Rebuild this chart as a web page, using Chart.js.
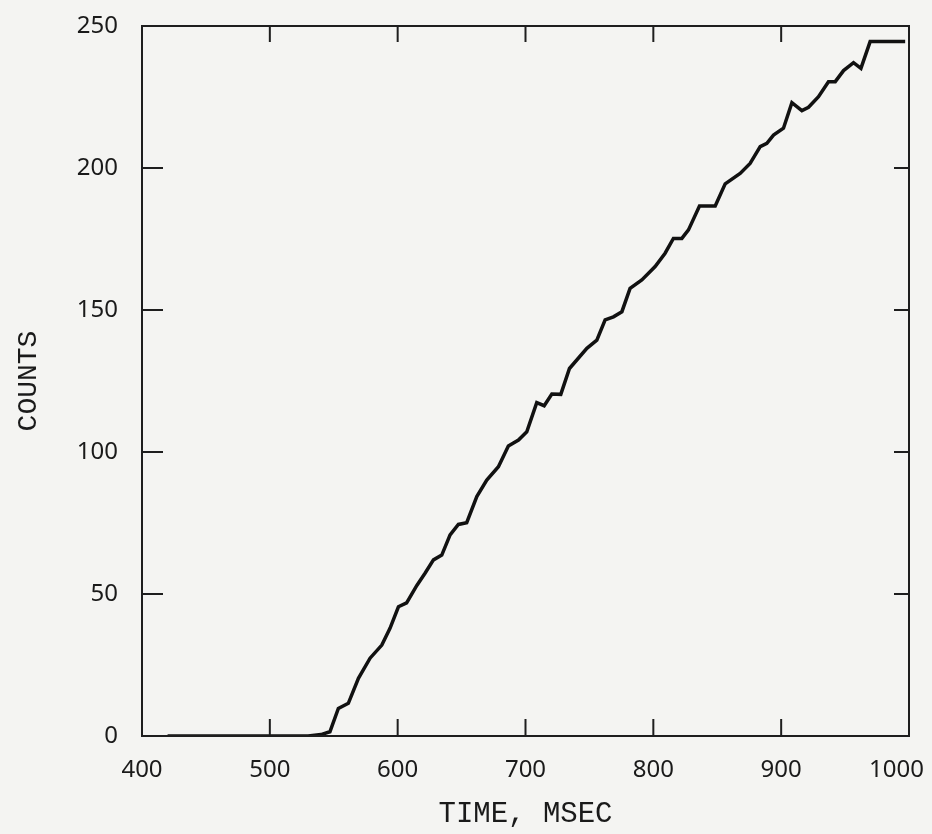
<!DOCTYPE html>
<html>
<head>
<meta charset="utf-8">
<script src="https://cdn.jsdelivr.net/npm/chart.js@4/dist/chart.umd.min.js"></script>
<style>
    html, body { margin: 0; padding: 0; background: #f4f4f2; }
    #wrap { width: 932px; height: 834px; }
</style>
</head>
<body>
<div id="wrap"><canvas id="chart" width="932" height="834"></canvas></div>
<script>
// time (msec) and cumulative counts
const times = [420, 500, 530, 540, 547, 553.6, 561.4, 569.3, 578.4, 587.6, 594, 600.6, 607, 615, 621.4, 628, 634.5, 641,
    647.5, 654, 661.9, 669.7, 678.8, 686.6, 694.5, 701, 708.8, 714.6, 720.6, 727.6, 734.4, 748, 755.8,
    762.3, 768.8, 775.4, 781.8, 791, 801.4, 809.2, 815.7, 822.3, 827.5, 836.1, 848.4, 856.2, 867.9,
    875.7, 883.6, 888.8, 894, 901.8, 908.4, 916.2, 921.4, 929.2, 937, 942.3, 948.8, 956.6, 962.4, 969.6, 997];
const counts = [0, 0, 0, 0.5, 1.5, 9.7, 11.5, 20.3, 27.4, 32, 37.9, 45.5, 46.9, 53, 57.3, 62, 63.7, 70.8,
    74.5, 75.1, 84.3, 90.1, 94.8, 102.1, 104.2, 107.1, 117.4, 116.3, 120.4, 120.3, 129.4, 136.5, 139.4,
    146.5, 147.6, 149.4, 157.6, 160.6, 165.3, 170, 175.2, 175.2, 178.2, 186.6, 186.6, 194.4, 198.1,
    201.6, 207.5, 208.7, 211.6, 214, 223, 220.2, 221.4, 225.1, 230.4, 230.4, 234.3, 237.1, 235.1, 244.5, 244.5];
const xTicks = [400, 500, 600, 700, 800, 900, 1000];
const yTicks = [0, 50, 100, 150, 200, 250];
const xTitle = 'TIME, MSEC';
const yTitle = 'COUNTS';

const points = times.map((t, i) => ({ x: t, y: counts[i] }));

// plot frame with inward tick marks on all four sides
const frame = {
    id: 'frame',
    afterDatasetsDraw(chart) {
        const { ctx, chartArea: a, scales } = chart;
        ctx.save();
        ctx.strokeStyle = '#1e1e1e';
        ctx.lineWidth = 2;
        ctx.strokeRect(a.left, a.top, a.right - a.left, a.bottom - a.top);
        ctx.beginPath();
        xTicks.slice(1, -1).forEach(v => {
            const x = scales.x.getPixelForValue(v);
            ctx.moveTo(x, a.bottom); ctx.lineTo(x, a.bottom - 17);
            ctx.moveTo(x, a.top); ctx.lineTo(x, a.top + 16);
        });
        yTicks.slice(1, -1).forEach(v => {
            const y = scales.y.getPixelForValue(v);
            ctx.moveTo(a.left, y); ctx.lineTo(a.left + 21, y);
            ctx.moveTo(a.right, y); ctx.lineTo(a.right - 15, y);
        });
        ctx.stroke();
        ctx.restore();
    }
};

new Chart(document.getElementById('chart'), {
    type: 'line',
    data: {
        datasets: [{
            data: points,
            borderColor: '#111',
            borderWidth: 3.5,
            pointRadius: 0,
            tension: 0,
            fill: false
        }]
    },
    options: {
        responsive: false,
        animation: false,
        layout: { padding: { top: 26, right: 23, left: 0, bottom: 0 } },
        plugins: { legend: { display: false }, tooltip: { enabled: false } },
        scales: {
            x: {
                type: 'linear',
                min: 400,
                max: 1000,
                afterBuildTicks: s => { s.ticks = xTicks.map(v => ({ value: v })); },
                afterFit: s => { s.height = 98; s.paddingLeft = 0; s.paddingRight = 0; },
                grid: { display: false, drawTicks: false },
                border: { display: false },
                ticks: {
                    color: '#1a1a1a', padding: 20, maxRotation: 0,
                    font: { family: 'Noto Sans', size: 24 },
                    // last label sits left of its tick in the original
                    callback: v => v === 1000 ? '1000    ' : String(v)
                },
                title: {
                    display: true, text: xTitle, color: '#1a1a1a',
                    padding: { top: 0, bottom: 2 },
                    font: { family: 'Liberation Mono', size: 29 }
                }
            },
            y: {
                min: 0,
                max: 250,
                afterBuildTicks: s => { s.ticks = yTicks.map(v => ({ value: v })); },
                afterFit: s => { s.width = 142; s.paddingTop = 0; s.paddingBottom = 0; },
                grid: { display: false, drawTicks: false },
                border: { display: false },
                ticks: {
                    color: '#1a1a1a', padding: 24,
                    font: { family: 'Noto Sans', size: 24 },
                    callback: v => String(v)
                },
                title: {
                    display: true, text: yTitle, color: '#1a1a1a',
                    padding: { top: 12, bottom: 0 },
                    font: { family: 'Liberation Mono', size: 28 }
                }
            }
        }
    },
    plugins: [frame]
});
</script>
</body>
</html>
